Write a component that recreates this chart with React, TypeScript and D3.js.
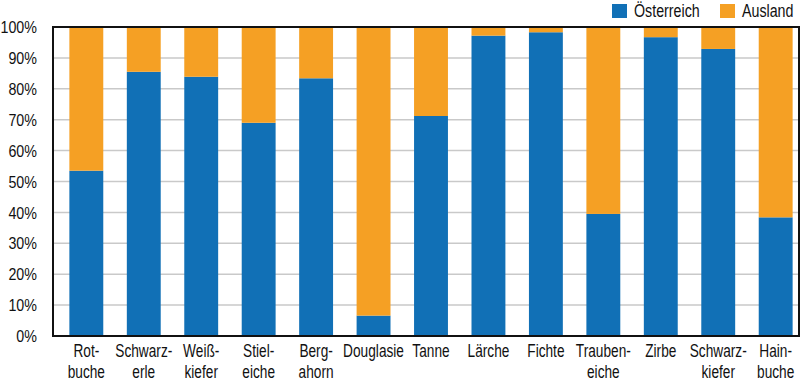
import React from "react";
import * as d3 from "d3";

const categories: string[][] = [
  ["Rot-", "buche"],
  ["Schwarz-", "erle"],
  ["Weiß-", "kiefer"],
  ["Stiel-", "eiche"],
  ["Berg-", "ahorn"],
  ["Douglasie"],
  ["Tanne"],
  ["Lärche"],
  ["Fichte"],
  ["Trauben-", "eiche"],
  ["Zirbe"],
  ["Schwarz-", "kiefer"],
  ["Hain-", "buche"],
];
const oesterreich: number[] = [53.5, 85.5, 83.9, 69.0, 83.4, 6.6, 71.2, 97.2, 98.3, 39.5, 96.7, 92.9, 38.4];
const ausland: number[] = oesterreich.map((v) => 100 - v);
const yTicks: number[] = [0, 10, 20, 30, 40, 50, 60, 70, 80, 90, 100];
const seriesNames: string[] = ["Österreich", "Ausland"];

const BLUE = "#1170b6";
const ORANGE = "#f5a024";
const FONT = "'Liberation Sans', Arial, Helvetica, sans-serif";

export default function App() {
  const W = 800, H = 380;
  const frameL = 53, frameR = 799, top = 27, bottom = 336;
  const keys = categories.map((c) => c.join(""));
  const x = d3
    .scaleBand<string>()
    .domain(keys)
    .range([57.6, 804.4])
    .paddingInner(0.41)
    .paddingOuter(0.205);
  const y = d3.scaleLinear().domain([0, 100]).range([bottom, top]);

  return (
    <svg
      width={W}
      height={H}
      style={{ position: "absolute", left: 0, top: 0, background: "#fff" }}
      fontFamily={FONT}
    >
      <defs>
        <clipPath id="plot">
          <rect x={frameL} y={0} width={frameR - frameL} height={H} />
        </clipPath>
      </defs>
      {yTicks.map((t) => (
        <g key={t}>
          {t > 0 && t < 100 && (
            <line x1={frameL} x2={frameR} y1={y(t)} y2={y(t)} stroke="#c9c9c9" strokeWidth={1.5} />
          )}
          <text
            transform={`translate(37,${y(t)}) scale(0.84,1)`}
            dy="0.36em"
            textAnchor="end"
            fontSize={17}
            fill="#111"
          >
            {t}%
          </text>
        </g>
      ))}
      <g clipPath="url(#plot)">
        {keys.map((k, i) => (
          <g key={k}>
            <rect
              x={x(k)}
              width={x.bandwidth()}
              y={y(oesterreich[i])}
              height={y(0) - y(oesterreich[i])}
              fill={BLUE}
            />
            <rect
              x={x(k)}
              width={x.bandwidth()}
              y={y(100)}
              height={y(oesterreich[i]) - y(oesterreich[i] + ausland[i])}
              fill={ORANGE}
            />
          </g>
        ))}
      </g>
      <rect x={frameL} y={top} width={frameR - frameL} height={bottom - top} fill="none" stroke="#111" strokeWidth={2} />
      {categories.map((lines, i) => {
        const cx = (x(keys[i]) as number) + x.bandwidth() / 2;
        return (
          <text
            key={i}
            transform={`translate(${cx},0) scale(0.74,1)`}
            textAnchor="middle"
            fontSize={18.5}
            fill="#111"
          >
            {lines.map((l, j) => (
              <tspan key={j} x={0} y={357 + j * 21}>
                {l}
              </tspan>
            ))}
          </text>
        );
      })}
      <g>
        <rect x={612} y={4} width={15} height={14} fill={BLUE} />
        <text transform="translate(634,17) scale(0.77,1)" fontSize={18.5} fill="#111">
          {seriesNames[0]}
        </text>
        <rect x={720} y={4} width={15} height={14} fill={ORANGE} />
        <text transform="translate(742,17) scale(0.77,1)" fontSize={18.5} fill="#111">
          {seriesNames[1]}
        </text>
      </g>
    </svg>
  );
}
